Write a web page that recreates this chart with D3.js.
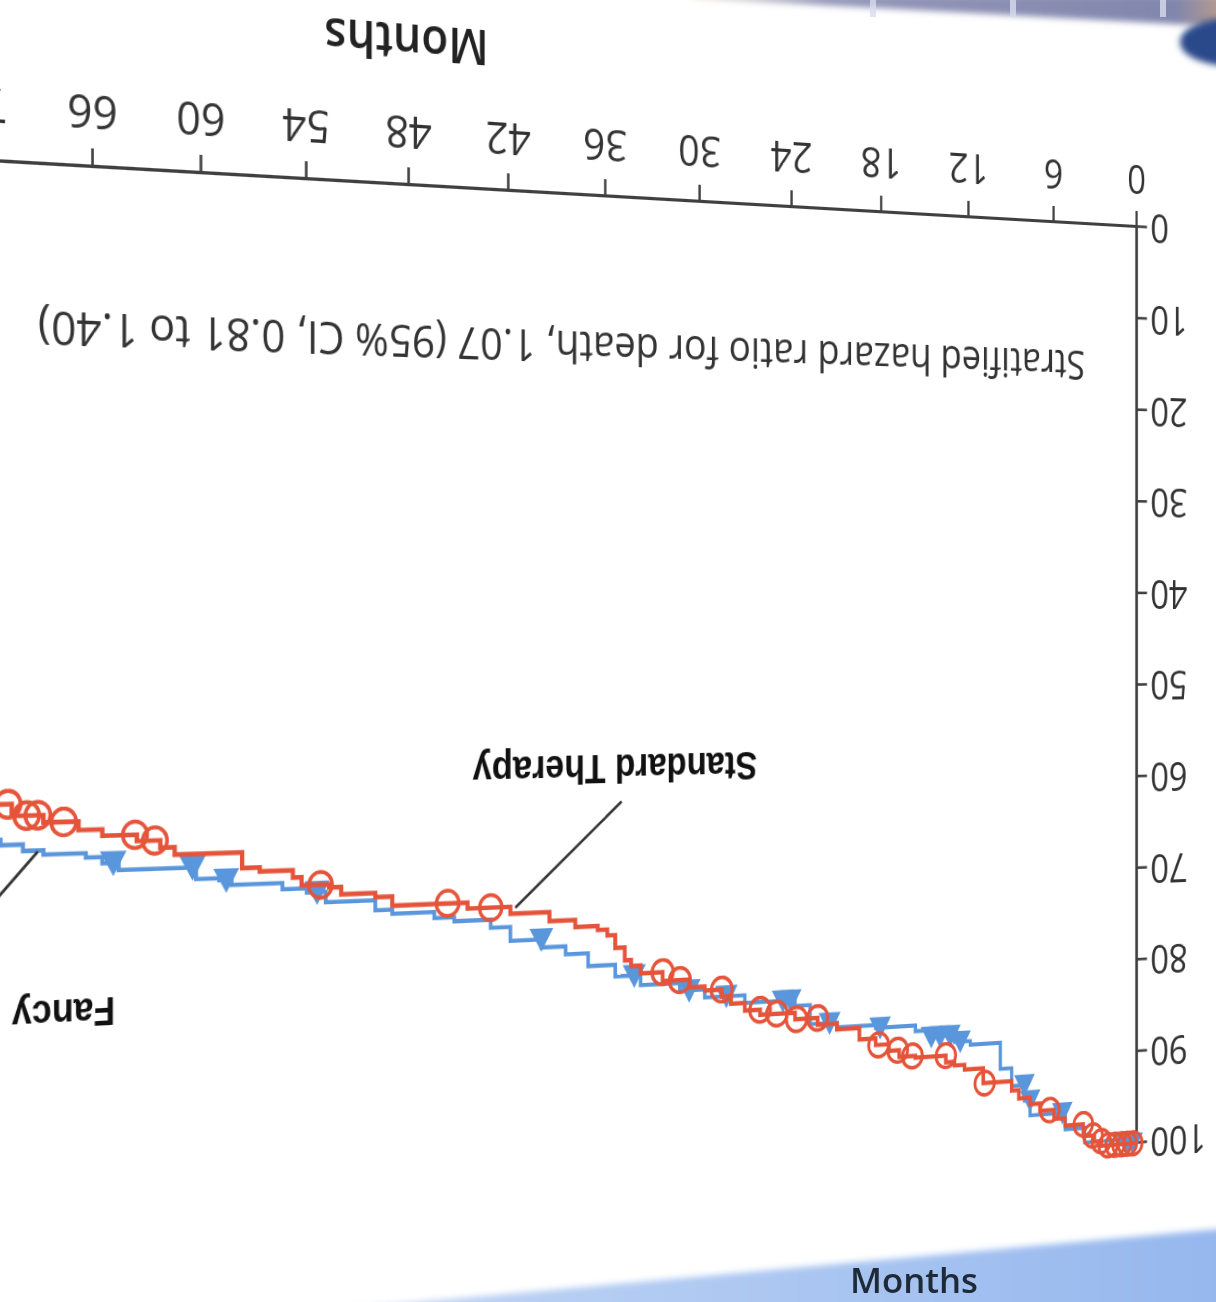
<!DOCTYPE html>
<html>
<head>
<meta charset="utf-8">
<script src="https://cdn.jsdelivr.net/npm/d3@7"></script>
<style>
    html, body { margin: 0; padding: 0; background: #fff; overflow: hidden; }
    #page { position: relative; width: 1216px; height: 1302px; overflow: hidden; background: #fff; }
    #km-chart { position: absolute; left: 0; top: 0; transform-origin: 0 0; }
    #overlay { position: absolute; left: 0; top: 0; }
    .axis path, .axis line { stroke: #404040; }
    .axis path { stroke-width: 3.2; }
    .axis line { stroke-width: 2.6; }
    .axis text { font-family: "Open Sans", sans-serif; font-size: 41px; fill: #333; }
</style>
</head>
<body>
<div id="page">
    <div id="km-chart"></div>
    <svg id="overlay" width="1216" height="1302"></svg>
</div>
<script>
// ---- data (months, % surviving) ----
let xTicks = [0, 6, 12, 18, 24, 30, 36, 42, 48, 54, 60, 66, 72];
let yTicks = [0, 10, 20, 30, 40, 50, 60, 70, 80, 90, 100];

// Standard Therapy step curve
let stdTime = [0, 2.6, 3.1, 3.9, 5.2, 6.0, 7.0, 7.7, 8.5, 9.0, 11.0, 12.3, 13.0, 13.6, 15.7, 16.8, 17.5, 18.4, 19.5, 21.0,
    22.3, 23.8, 26.1, 27.1, 28.0, 28.6, 29.7, 30.7, 32.4, 33.8, 34.4, 34.8, 35.4, 35.9, 36.5, 37.9, 39.5, 41.9, 44.5, 49.0,
    50.0, 52.0, 52.7, 54.3, 54.8, 56.7, 57.7, 61.5, 62.3, 63.6, 65.5, 66.8, 68.7, 70.4, 72];
let stdSurv = [100, 99.5, 98.8, 97.5, 96.7, 95.7, 94.9, 94.2, 93.3, 92.3, 90.7, 90.2, 89.8, 89.1, 88.9, 88.2, 87.5, 86.8, 85.6, 85.0,
    84.3, 83.6, 83.1, 82.3, 81.5, 80.8, 80.4, 79.6, 78.7, 77.9, 77.3, 76.0, 74.7, 74.1, 73.7, 73.0, 72.1, 71.4, 70.8, 69.9,
    69.5, 68.8, 68.5, 67.7, 67.0, 66.6, 65.1, 64.4, 63.7, 63.1, 62.5, 61.7, 61.0, 59.9, 59.9];
let stdCensor = [0.3, 0.7, 1.1, 1.6, 2.1, 2.6, 3.2, 3.9, 6.3, 10.9, 13.6, 15.9, 16.9, 18.2, 22.3, 23.7, 25.0, 26.1, 28.6,
    31.3, 32.4, 43.1, 45.7, 53.2, 62.6, 63.7, 67.6, 69.0, 69.6, 70.6];

// Fancy step curve
let fancyTime = [0, 1.2, 3.8, 5.2, 7.7, 8.1, 9.0, 9.8, 11.9, 13.0, 14.7, 15.7, 18.4, 21.0, 22.8, 23.8, 27.1, 29.7, 31.3, 33.8,
    35.4, 37.1, 38.5, 40.0, 41.9, 43.1, 45.3, 46.5, 49.0, 50.0, 52.9, 54.0, 55.4, 58.3, 59.0, 60.3, 64.6, 65.5, 66.4, 68.7,
    69.8, 71.0, 72];
let fancySurv = [100, 99.5, 97.9, 96.1, 94.5, 92.8, 90.9, 88.1, 87.7, 87.0, 86.3, 85.7, 85.4, 84.9, 82.9, 82.3, 81.5, 80.7, 79.9, 78.9,
    77.7, 76.4, 75.6, 74.8, 73.4, 72.6, 72.2, 71.6, 71.2, 70.2, 69.2, 68.8, 68.2, 67.7, 67.5, 66.4, 65.7, 65.1, 64.7, 64.3,
    63.7, 63.2, 63.2];
let fancyCensor = [0.3, 0.8, 5.4, 7.7, 8.1, 12.6, 13.3, 14.0, 14.6, 18.1, 21.5, 24.1, 24.6, 28.3, 30.7, 34.2, 40.0, 53.4,
    58.6, 60.5, 64.9];

let hazardText = "Stratified hazard ratio for death, 1.07 (95% CI, 0.81 to 1.40)";

// ---- flat chart ----
let KX = 17, KY = 9.16;     // px per month, px per percent (before the photo warp)
let margin = {top: 60, right: 250, bottom: 200, left: 150};
let width = 72 * KX, height = 100 * KY;

let xScale = d3.scaleLinear().domain([0, 72]).range([0, width]);
let yScale = d3.scaleLinear().domain([0, 100]).range([height, 0]);

let svg = d3.select("#km-chart").append("svg")
    .attr("width", width + margin.left + margin.right)
    .attr("height", height + margin.top + margin.bottom);
let g = svg.append("g").attr("transform", "translate(" + margin.left + "," + margin.top + ")");

let xAxis = d3.axisBottom(xScale).tickValues(xTicks).tickSize(16).tickSizeOuter(0).tickPadding(17);
g.append("g").attr("class", "axis").attr("transform", "translate(0," + height + ")").call(xAxis);

let yAxis = d3.axisLeft(yScale).tickValues(yTicks).tickSize(12.5).tickSizeOuter(0).tickPadding(4);
g.append("g").attr("class", "axis").call(yAxis);

// axis title
g.append("text")
    .attr("x", xScale(48.1))
    .attr("y", height + 145)
    .attr("text-anchor", "middle")
    .style("font-family", "'Open Sans', sans-serif")
    .style("font-weight", 600)
    .style("font-size", "45px")
    .style("fill", "#222")
    .text("Months");

g.append("text")
    .attr("x", xScale(3.78))
    .attr("y", yScale(13.7))
    .attr("textLength", xScale(69) - xScale(3.78))
    .attr("lengthAdjust", "spacingAndGlyphs")
    .style("font-family", "'Open Sans', sans-serif")
    .style("font-size", "41px")
    .style("fill", "#333")
    .text(hazardText);

function survAt(times, surv, t) {
    let i = d3.bisectRight(times, t) - 1;
    return surv[Math.max(0, i)];
}

let line = d3.line()
    .x(d => xScale(d[0]))
    .y(d => yScale(d[1]))
    .curve(d3.curveStepAfter);

let blue = "#5a96dc", red = "#e5543a";

// Fancy
g.append("path")
    .datum(fancyTime.map((t, i) => [t, fancySurv[i]]))
    .attr("d", line)
    .attr("fill", "none")
    .attr("stroke", blue)
    .attr("stroke-width", 3.8);

g.selectAll(".tri").data(fancyCensor).enter().append("path")
    .attr("class", "tri")
    .attr("d", d3.symbol().type(d3.symbolTriangle).size(270))
    .attr("transform", d => "translate(" + xScale(d) + "," + (yScale(survAt(fancyTime, fancySurv, d)) + 3) + ")")
    .attr("fill", blue);

// Standard therapy
g.append("path")
    .datum(stdTime.map((t, i) => [t, stdSurv[i]]))
    .attr("d", line)
    .attr("fill", "none")
    .attr("stroke", red)
    .attr("stroke-width", 4.2);

g.selectAll(".circ").data(stdCensor).enter().append("circle")
    .attr("class", "circ")
    .attr("cx", d => xScale(d))
    .attr("cy", d => yScale(survAt(stdTime, stdSurv, d)))
    .attr("r", 11.5)
    .attr("fill", "none")
    .attr("stroke", red)
    .attr("stroke-width", 3.4);

// labels with leader lines
g.append("line")
    .attr("x1", xScale(35.0)).attr("y1", yScale(61.2))
    .attr("x2", xScale(41.6)).attr("y2", yScale(71.5))
    .attr("stroke", "#333").attr("stroke-width", 2.6);

g.append("text")
    .attr("x", xScale(26.3))
    .attr("y", yScale(56.4))
    .attr("textLength", xScale(44.2) - xScale(26.3))
    .attr("lengthAdjust", "spacingAndGlyphs")
    .style("font-family", "'Liberation Sans', Arial, sans-serif")
    .style("font-weight", "bold")
    .style("font-size", "37px")
    .style("fill", "#111")
    .text("Standard Therapy");

g.append("line")
    .attr("x1", xScale(69.0)).attr("y1", yScale(64.4))
    .attr("x2", xScale(76)).attr("y2", yScale(78))
    .attr("stroke", "#333").attr("stroke-width", 2.6);

g.append("text")
    .attr("x", xScale(64.8))
    .attr("y", yScale(78.4))
    .attr("textLength", xScale(70.4) - xScale(64.8))
    .attr("lengthAdjust", "spacingAndGlyphs")
    .style("font-family", "'Liberation Sans', Arial, sans-serif")
    .style("font-weight", "bold")
    .style("font-size", "35px")
    .style("fill", "#111")
    .text("Fancy");

// ---- the photo warp: months/percent -> screen pixels (upside down, in perspective) ----
let cam = {x0: 1137, y0: 227, ax: -16.008, bx: -1.2543, by: 9.16, w: -0.002065};
let Huv = [[cam.ax, 0, cam.x0], [cam.bx, cam.by, cam.y0], [cam.w, 0, 1]];
let toUV = [[1 / KX, 0, -margin.left / KX], [0, -1 / KY, 100 + margin.top / KY], [0, 0, 1]];

function mul(a, b) {
    let r = [[0, 0, 0], [0, 0, 0], [0, 0, 0]];
    for (let i = 0; i < 3; i++)
        for (let j = 0; j < 3; j++)
            for (let k = 0; k < 3; k++) r[i][j] += a[i][k] * b[k][j];
    return r;
}
let H = mul(Huv, toUV);
let n = H[2][2];
H = H.map(row => row.map(v => v / n));
d3.select("#km-chart").style("transform",
    "matrix3d(" + [H[0][0], H[1][0], 0, H[2][0],
                   H[0][1], H[1][1], 0, H[2][1],
                   0, 0, 1, 0,
                   H[0][2], H[1][2], 0, H[2][2]].join(",") + ")");

// ---- bits of the photographed slide around the chart ----
let ov = d3.select("#overlay");
let defs = ov.append("defs");
defs.append("filter").attr("id", "soft").append("feGaussianBlur").attr("stdDeviation", 3);
let bandGrad = defs.append("linearGradient").attr("id", "band").attr("x1", 0).attr("x2", 1);
bandGrad.append("stop").attr("offset", 0).attr("stop-color", "#c2d6f5");
bandGrad.append("stop").attr("offset", 1).attr("stop-color", "#95b7ee");
let topGrad = defs.append("linearGradient").attr("id", "topband").attr("x1", 0).attr("x2", 1);
topGrad.append("stop").attr("offset", 0).attr("stop-color", "#ece4d4");
topGrad.append("stop").attr("offset", 0.25).attr("stop-color", "#9497b8");
topGrad.append("stop").attr("offset", 0.9).attr("stop-color", "#8186ad");
topGrad.append("stop").attr("offset", 1).attr("stop-color", "#c19f86");

ov.append("polygon")
    .attr("points", "330,1310 1230,1228 1230,1310")
    .attr("fill", "url(#band)")
    .attr("filter", "url(#soft)");

ov.append("text")
    .attr("x", 850).attr("y", 1293)
    .attr("textLength", 128)
    .attr("lengthAdjust", "spacingAndGlyphs")
    .style("font-family", "'Open Sans', sans-serif")
    .style("font-weight", 600)
    .style("font-size", "34px")
    .style("fill", "#1f2a38")
    .text("Months");

ov.append("polygon")
    .attr("points", "690,-5 1230,-5 1230,27 690,-2")
    .attr("fill", "url(#topband)")
    .attr("filter", "url(#soft)");
[870, 1010, 1160].forEach(function (sx) {
    ov.append("rect").attr("x", sx).attr("y", -5).attr("width", 6).attr("height", 22)
        .attr("fill", "#d8dcef").attr("opacity", 0.8);
});
ov.append("ellipse")
    .attr("cx", 1232).attr("cy", 42).attr("rx", 52).attr("ry", 24)
    .attr("fill", "#2c4a8a")
    .attr("filter", "url(#soft)");
</script>
</body>
</html>
